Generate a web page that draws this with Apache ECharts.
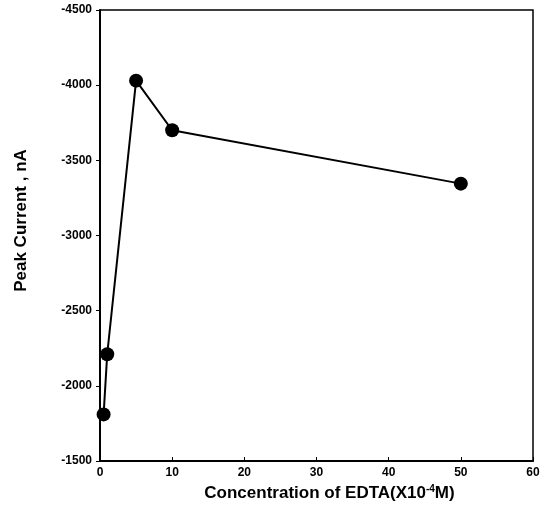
<!DOCTYPE html>
<html>
<head>
<meta charset="utf-8">
<script src="https://cdn.jsdelivr.net/npm/echarts@6/dist/echarts.min.js"></script>
<style>
html,body{margin:0;padding:0;background:#fff;}
#chart{width:543px;height:522px;}
</style>
</head>
<body>
<div id="chart"></div>
<script>
// Data
const concentrations = [0.5, 1, 5, 10, 50];          // EDTA (x10^-4 M)
const peakCurrents = [-1810, -2210, -4030, -3700, -3345]; // nA
const xTicks = [0, 10, 20, 30, 40, 50, 60];
const yTicks = [-4500, -4000, -3500, -3000, -2500, -2000, -1500];

const chart = echarts.init(document.getElementById('chart'));
const font = 'Liberation Sans, Arial, sans-serif';
chart.setOption({
  backgroundColor: '#fff',
  animation: false,
  grid: {left: 100, right: 10, top: 10, bottom: 61, show: true, borderColor: '#000', borderWidth: 1.5, backgroundColor: 'transparent'},
  xAxis: {
    type: 'value', min: xTicks[0], max: xTicks[xTicks.length-1], interval: 10,
    name: 'Concentration of EDTA(X10{sup|-4}M)',
    nameLocation: 'middle', nameGap: 23,
    nameTextStyle: {fontFamily: font, fontWeight: 'bold', fontSize: 17, color: '#000', padding: [0,0,0,26],
      rich: {sup: {fontFamily: font, fontWeight: 'bold', fontSize: 10, color: '#000', verticalAlign: 'top', padding: [0,0,8,0]}}},
    axisLine: {show: true, lineStyle: {color: '#000', width: 2}},
    axisTick: {show: true, inside: true, length: 4, lineStyle: {color: '#000', width: 1}},
    axisLabel: {fontFamily: font, fontWeight: 'bold', fontSize: 12, color: '#000', margin: 6},
    splitLine: {show: false}
  },
  yAxis: {
    type: 'value', min: yTicks[0], max: yTicks[yTicks.length-1], interval: 500, inverse: true,
    name: 'Peak Current , nA',
    nameLocation: 'middle', nameGap: 70,
    nameTextStyle: {fontFamily: font, fontWeight: 'bold', fontSize: 17, color: '#000', padding: [0,0,0,30]},
    axisLine: {show: true, lineStyle: {color: '#000', width: 2}},
    axisTick: {show: true, inside: false, length: 4, lineStyle: {color: '#000', width: 1}},
    axisLabel: {fontFamily: font, fontWeight: 'bold', fontSize: 12, color: '#000', margin: 8,
      formatter: v => '-' + Math.abs(v)},
    splitLine: {show: false}
  },
  series: [{
    type: 'line',
    data: concentrations.map((c, i) => [c, peakCurrents[i]]),
    symbol: 'circle', symbolSize: 14,
    lineStyle: {color: '#000', width: 2},
    itemStyle: {color: '#000'}
  }]
});
</script>
</body>
</html>
